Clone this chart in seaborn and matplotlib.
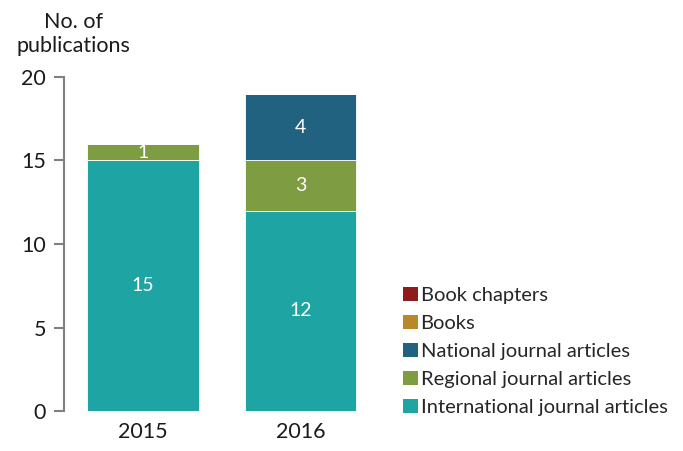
import matplotlib
matplotlib.use("Agg")
import matplotlib.pyplot as plt
import seaborn as sns
import pandas as pd
from matplotlib.patches import Patch

# data
years = ["2015", "2016"]
international = [15, 12]
regional = [1, 3]
national = [0, 4]
books = [0, 0]
chapters = [0, 0]

series_names = ["International journal articles", "Regional journal articles",
                "National journal articles", "Books", "Book chapters"]
series_values = [international, regional, national, books, chapters]
colors = ["#1FA4A4", "#7E9C42", "#20627F", "#B8892A", "#8E1C1C"]

sns.set_style("white")
plt.rcParams["font.family"] = ["Lato", "DejaVu Sans"]

fig = plt.figure(figsize=(6.83, 4.51), dpi=100)
ax = fig.add_axes([64 / 683, 40 / 451, 315 / 683, 334 / 451])

# stacked bars via seaborn: each layer drawn with bottom = cumulative sum below
bottom = [0, 0]
for name, vals, col in zip(series_names, series_values, colors):
    df = pd.DataFrame({"year": years, "value": vals})
    sns.barplot(data=df, x="year", y="value", color=col, width=0.71,
                bottom=bottom, ax=ax, edgecolor="white", linewidth=0.6,
                saturation=1)
    for i, v in enumerate(vals):
        if v > 0:
            ax.text(i, bottom[i] + v / 2, str(v), ha="center", va="center",
                    color="white", fontsize=14)
    bottom = [b + v for b, v in zip(bottom, vals)]

ax.set_ylim(0, 20)
ax.set_xlim(-0.503, 1.5)
ax.set_yticks([0, 5, 10, 15, 20])
ax.set_xlabel("")
ax.set_ylabel("")
sns.despine(ax=ax, bottom=True)
ax.spines["left"].set_color("#808080")
ax.spines["left"].set_linewidth(1.5)
ax.tick_params(axis="y", left=True, length=7, width=1.5, color="#808080",
               labelsize=15.5, labelcolor="#1a1a1a", pad=6)
ax.tick_params(axis="x", length=0, labelsize=15.5, labelcolor="#1a1a1a", pad=8)

fig.text(73 / 683, 1 - 34 / 451, "No. of\npublications", ha="center",
         va="center", fontsize=15.5, color="#1a1a1a", linespacing=1.3)

handles = [Patch(facecolor=c, edgecolor="none") for c in colors[::-1]]
fig.legend(handles, series_names[::-1], loc="upper left",
           bbox_to_anchor=(395 / 683, 1 - 279 / 451), frameon=False,
           fontsize=14.5, handlelength=0.72, handleheight=0.72,
           handletextpad=0.15, labelspacing=0.53, borderaxespad=0)

fig.savefig("out.png", dpi=100)
